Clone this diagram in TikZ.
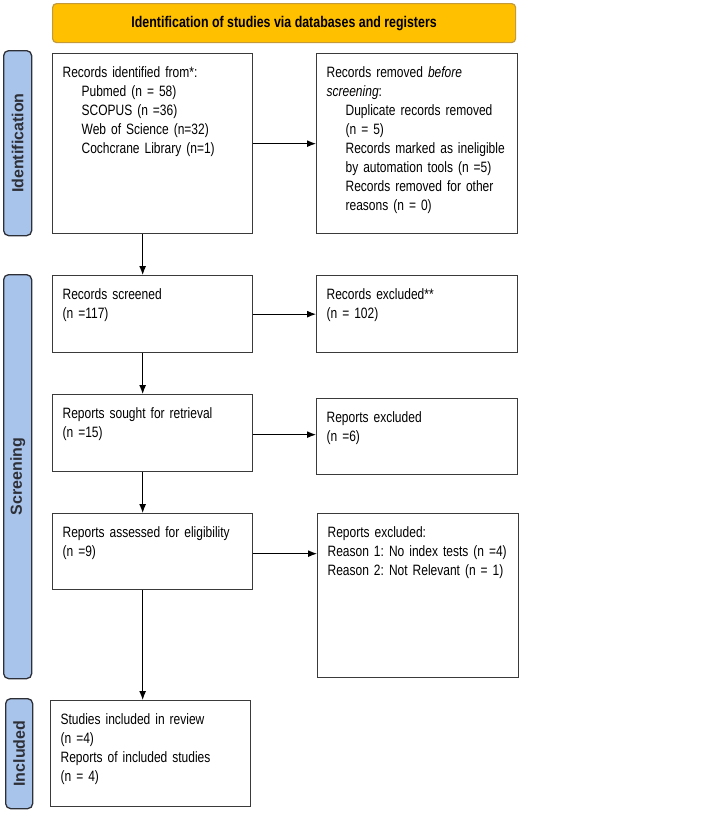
\documentclass[tikz,border=0pt]{standalone}
\usepackage{fontspec}
\setmainfont[FakeStretch=0.8]{Liberation Sans}
\newfontfamily\phasefont{Liberation Sans}
\usepackage{tikz}
\usetikzlibrary{arrows,arrows.meta,positioning,shapes}

\definecolor{headfill}{HTML}{FFC000}
\definecolor{headline}{HTML}{C49A38}
\definecolor{phasefill}{HTML}{A9C4EB}
\definecolor{phaseline}{HTML}{2E3038}
\definecolor{boxline}{HTML}{3A3A3A}

\begin{document}
\frenchspacing
\begin{tikzpicture}[x=1pt,y=1pt,
          box/.style 2 args={draw=boxline,line width=1.3pt,rectangle,anchor=north west,align=left,
            inner xsep=10pt,inner ysep=12pt,text width=#1-20pt,text height=12pt,text depth=#2-36pt,
            font=\fontsize{15}{19}\selectfont},
          head/.style={draw=headline,fill=headfill,line width=1.2pt,rounded corners=4pt,anchor=north west,
            minimum width=463pt,minimum height=39pt,font=\fontsize{15.5}{17}\selectfont\bfseries},
          phase/.style={draw=phaseline,fill=phasefill,line width=1.3pt,rounded corners=5pt,anchor=north west,
            minimum width=28pt},
          phasetext/.style={rotate=90,text=phaseline,font=\phasefont\fontsize{16}{18}\selectfont\bfseries},
          flow/.style={draw,->,line width=1.1pt,>={Latex[length=9pt,width=7pt]}}
        ]
        \useasboundingbox (0,0) rectangle (712,-814);

        %header
        \node[head] (hd) at (52,-3) {Identification of studies via databases and registers};

        %phases
        \node[phase,minimum height=185pt] (p1) at (3,-50) {};
        \node[phasetext] (p1t) at (p1.center) {Identification};
        \node[phase,minimum height=404pt] (p2) at (3,-274) {};
        \node[phasetext] (p2t) at (p2.center) {Screening};
        \node[phase,minimum height=110pt,minimum width=27pt] (p3) at (5,-698) {};
        \node[phasetext] (p3t) at (p3.center) {Included};

        %left column
        \node[box={200pt}{180pt}] (b1) at (52,-53) {Records identified from*:\\
          \hspace*{19pt}Pubmed (n = 58)\\
          \hspace*{19pt}SCOPUS (n =36)\\
          \hspace*{19pt}Web of Science (n=32)\\
          \hspace*{19pt}Cochcrane Library (n=1)};
        \node[box={200pt}{77pt}] (b3) at (52,-275) {Records screened\\ (n =117)};
        \node[box={200pt}{77pt}] (b5) at (52,-394) {Reports sought for retrieval\\ (n =15)};
        \node[box={200pt}{76pt}] (b7) at (52,-513) {Reports assessed for eligibility\\ (n =9)};
        \node[box={200pt}{106pt}] (b9) at (50,-700) {Studies included in review\\ (n =4)\\
          Reports of included studies\\ (n = 4)};

        %right column
        \node[box={201pt}{180pt}] (b2) at (316,-53) {Records removed \textit{before}\\ \textit{screening}:\\
          \hspace*{19pt}Duplicate records removed\\
          \hspace*{19pt}(n = 5)\\
          \hspace*{19pt}Records marked as ineligible\\
          \hspace*{19pt}by automation tools (n =5)\\
          \hspace*{19pt}Records removed for other\\
          \hspace*{19pt}reasons (n = 0)};
        \node[box={201pt}{77pt}] (b4) at (316,-275) {Records excluded**\\ (n = 102)};
        \node[box={201pt}{76pt}] (b6) at (316,-398) {Reports excluded\\ (n =6)};
        \node[box={201pt}{164pt}] (b8) at (317,-513) {Reports excluded:\\
          Reason 1: No index tests (n =4)\\
          Reason 2: Not Relevant (n = 1)};

        %arrows
        \path[flow] (b1.east) -- (b1.east -| b2.west);
        \path[flow] (b3.east) -- (b3.east -| b4.west);
        \path[flow] ([yshift=-1.5pt]b5.east) -- ([yshift=-1.5pt]b5.east -| b6.west);
        \path[flow] ([yshift=-2pt]b7.east) -- ([yshift=-2pt]b7.east -| b8.west);
        \path[flow] ([xshift=-10pt]b1.south) -- ([xshift=-10pt]b1.south |- b3.north);
        \path[flow] ([xshift=-10pt]b3.south) -- ([xshift=-10pt]b3.south |- b5.north);
        \path[flow] ([xshift=-10pt]b5.south) -- ([xshift=-10pt]b5.south |- b7.north);
        \path[flow] ([xshift=-10pt]b7.south) -- ([xshift=-10pt]b7.south |- b9.north);
\end{tikzpicture}
\end{document}
